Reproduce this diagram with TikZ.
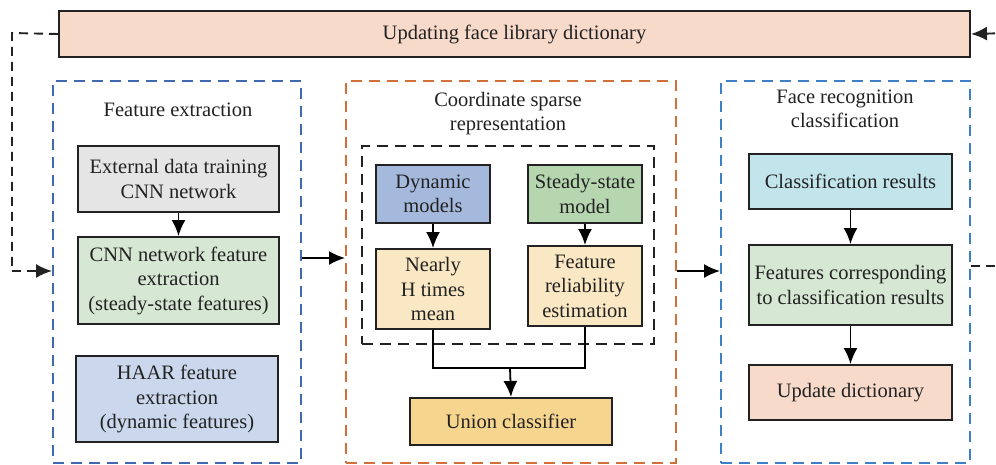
\documentclass[tikz,border=0pt]{standalone}
\usepackage{fontspec}
\setmainfont{Liberation Serif}
\usetikzlibrary{arrows.meta}
\definecolor{cgray}{HTML}{E5E5E5}
\definecolor{cgreen}{HTML}{D6E7D3}
\definecolor{chaar}{HTML}{CAD7EC}
\definecolor{cdyn}{HTML}{A5B9DD}
\definecolor{csteady}{HTML}{B6D6AF}
\definecolor{cnear}{HTML}{FAE7C3}
\definecolor{cunion}{HTML}{F6D68F}
\definecolor{ccls}{HTML}{C2E5EC}
\definecolor{cpeach}{HTML}{F8DACB}
\definecolor{fblueA}{HTML}{4169B0}
\definecolor{forange}{HTML}{D2703A}
\definecolor{fblueB}{HTML}{3D80C6}
\definecolor{cline}{HTML}{222222}
\tikzset{
  box/.style={draw=cline, line width=2pt, anchor=north west, inner sep=0pt, align=center, font=\fontsize{20.5}{24.5}\selectfont, text=cline},
  frame/.style={line width=2.2pt, dash pattern=on 11pt off 7pt, anchor=north west, inner sep=0pt},
  ttl/.style={align=center, font=\fontsize{20.5}{24}\selectfont, text=cline},
  tip/.style={-{Latex[length=16pt,width=14pt]}},
  arr/.style={line width=1.8pt, draw=black, tip},
  ln/.style={line width=1.8pt, draw=black},
  fb/.style={line width=1.9pt, draw=cline, dash pattern=on 9pt off 6pt},
}
\begin{document}
\begin{tikzpicture}[x=1pt,y=-1pt]
\useasboundingbox[fill=white] (0,0) rectangle (996,464);
% top bar
\node[box, fill=cpeach, minimum width=911pt, minimum height=46pt] (bar) at (58,10) {Updating face library dictionary};
% frames
\node[frame, draw=fblueA, minimum width=248pt, minimum height=382pt] (f1) at (52,80) {};
\node[frame, draw=forange, minimum width=330pt, minimum height=382pt] (f2) at (345,80) {};
\node[frame, draw=fblueB, minimum width=249pt, minimum height=382pt] (f3) at (720,80) {};
\node[frame, draw=cline, minimum width=292pt, minimum height=198pt] (inner) at (361,145) {};
% titles
\node[ttl] (t1) at (178,110) {Feature extraction};
\node[ttl] (t2) at (508,114) {Coordinate sparse\\representation};
\node[ttl] (t3) at (845,109) {Face recognition\\classification};
% left column
\node[box, fill=cgray, minimum width=201pt, minimum height=66pt] (ext) at (77,145) {External data training\\CNN network};
\node[box, fill=cgreen, minimum width=201pt, minimum height=87pt] (cnn) at (77,236) {CNN network feature\\extraction\\(steady-state features)};
\node[box, fill=chaar, minimum width=202pt, minimum height=86pt] (haar) at (75,355) {HAAR feature\\extraction\\(dynamic features)};
% middle column
\node[box, fill=cdyn, minimum width=114pt, minimum height=58pt] (dyn) at (375,164) {Dynamic\\models};
\node[box, fill=csteady, minimum width=114pt, minimum height=58pt] (std) at (527,164) {Steady-state\\model};
\node[box, fill=cnear, minimum width=114pt, minimum height=80pt] (near) at (375,248) {Nearly\\H times\\mean};
\node[box, fill=cnear, minimum width=114pt, minimum height=80pt] (rel) at (527,245) {Feature\\reliability\\estimation};
\node[box, fill=cunion, minimum width=202pt, minimum height=47pt] (uni) at (409,397) {Union classifier};
% right column
\node[box, fill=ccls, minimum width=203pt, minimum height=55pt] (cls) at (748,153) {Classification results};
\node[box, fill=cgreen, minimum width=203pt, minimum height=80pt] (feat) at (748,244) {Features corresponding\\to classification results};
\node[box, fill=cpeach, minimum width=203pt, minimum height=55pt] (upd) at (748,364) {Update dictionary};
% arrows
\draw[arr] (ext.south) -- (cnn.north);
\draw[arr] (dyn.south) -- (near.north);
\draw[arr] (std.south) -- (rel.north);
\coordinate (j) at (510,368);
\draw[ln] (near.south) |- (j) -| (rel.south);
\draw[arr] (j) -- (uni.north);
\draw[arr] (cls.south) -- (feat.north);
\draw[arr] (feat.south) -- (upd.north);
\draw[arr] (f1.east |- 0,258) -- (f2.west |- 0,258);
\draw[arr] (f2.east |- 0,271) -- (f3.west |- 0,271);
% feedback loops
\coordinate (lc) at (12,33);
\coordinate (lb) at (12,271);
\draw[fb] (bar.west) -- (lc) -- (lb);
\draw[fb, tip] (lb) -- (f1.west |- lb);
\coordinate (rb) at (1010,266);
\coordinate (rt) at (1010,33);
\draw[fb] (f3.east |- rb) -- (rb) -- (rt);
\draw[fb, tip] (rt) -- (bar.east);
\end{tikzpicture}
\end{document}
